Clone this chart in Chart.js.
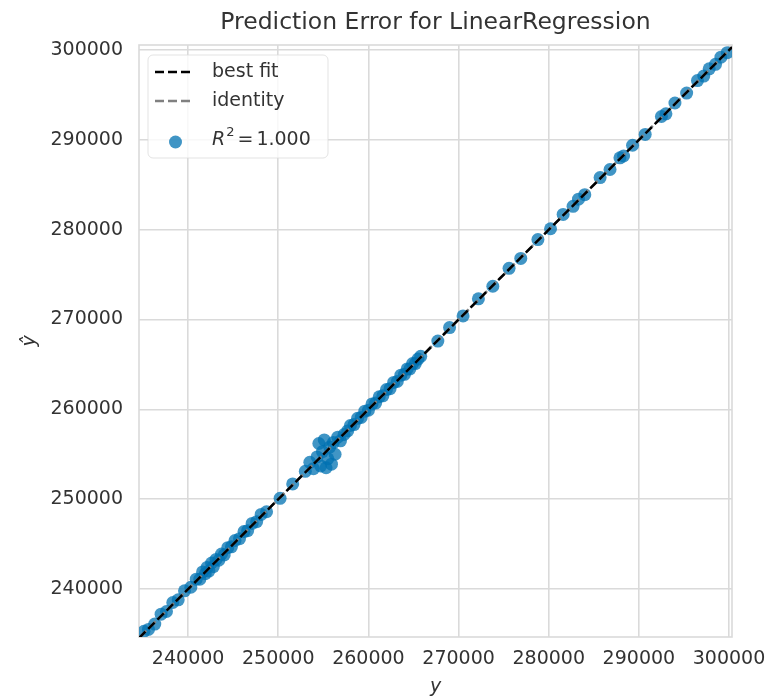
<!DOCTYPE html>
<html>
<head>
<meta charset="utf-8">
<script src="https://cdn.jsdelivr.net/npm/chart.js@4.4.1/dist/chart.umd.min.js"></script>
<style>
  html, body { margin: 0; padding: 0; background: #ffffff; }
  #wrap { width: 766px; height: 698px; }
</style>
</head>
<body>
<div id="wrap"><canvas id="c" width="766" height="698"></canvas></div>
<script>
// Observed target values (y) and model predictions (ŷ)
const actual = [
  235100, 235600, 236300, 237000, 237600, 238300, 238900, 239600, 240300, 240900,
  241300, 241600, 241900, 242100, 242300, 242600, 242800, 243100, 243400, 243700,
  244000, 244400, 244800, 245200, 245700, 246200, 246600, 247100, 247600, 248100,
  248700, 250200, 251600,
  253000, 253500, 253900, 254300, 254500, 254700, 254900, 255100, 255300, 255500,
  255700, 255900, 256100, 256300, 256600, 256900, 257300, 257700,
  258000, 258400, 258800, 259200, 259600, 260000, 260400, 260800, 261200, 261600,
  262000, 262400, 262800, 263200, 263600, 264000, 264300, 264600, 264900, 265200,
  265500, 265800,
  267700, 269000, 270500, 272200, 273800, 275600, 276900, 278800, 280200, 281600,
  282700, 283300, 284000, 285700, 286800, 287900, 288300, 289300, 290700, 292500,
  293000, 294000, 295300, 296500, 297200, 297800, 298500, 299100, 299800
];
const predicted = [
  235300, 235500, 236100, 237200, 237500, 238500, 238800, 239800, 240200, 241100,
  241100, 241900, 241700, 242400, 242000, 242900, 242500, 243300, 243200, 243900,
  243800, 244600, 244700, 245400, 245600, 246400, 246500, 247300, 247500, 248300,
  248600, 250100, 251700,
  253100, 254100, 253400, 254700, 256200, 253700, 255300, 256600, 253500, 254500,
  255800, 253900, 256300, 255000, 256900, 256500, 257200, 257600,
  258200, 258300, 259000, 259100, 259800, 259900, 260600, 260700, 261400, 261500,
  262200, 262300, 263000, 263100, 263800, 263900, 264500, 264500, 265100, 265100,
  265600, 265900,
  267600, 269100, 270400, 272300, 273700, 275700, 276800, 278900, 280100, 281700,
  282600, 283400, 283900, 285800, 286700, 288000, 288200, 289400, 290600, 292600,
  292900, 294100, 295200, 296600, 297100, 297900, 298400, 299200, 299700
];
const xTicks = [240000, 250000, 260000, 270000, 280000, 290000, 300000];
const yTicks = [240000, 250000, 260000, 270000, 280000, 290000, 300000];
const xLimits = [234550, 300330];
const yLimits = [234660, 300556];
const titleText = 'Prediction Error for LinearRegression';

// Least-squares fit of predicted on actual
const n = actual.length;
const mx = actual.reduce((a, b) => a + b, 0) / n;
const my = predicted.reduce((a, b) => a + b, 0) / n;
let sxy = 0, sxx = 0;
for (let i = 0; i < n; i++) {
  sxy += (actual[i] - mx) * (predicted[i] - my);
  sxx += (actual[i] - mx) * (actual[i] - mx);
}
const slope = sxy / sxx;
const intercept = my - slope * mx;
const fitLine = xLimits.map(x => ({ x: x, y: slope * x + intercept }));
const identityLine = [
  { x: Math.max(xLimits[0], yLimits[0]), y: Math.max(xLimits[0], yLimits[0]) },
  { x: Math.min(xLimits[1], yLimits[1]), y: Math.min(xLimits[1], yLimits[1]) }
];
const points = actual.map((x, i) => ({ x: x, y: predicted[i] }));

const FONT = "'DejaVu Sans', sans-serif";
const GRID = '#dadada';
const TEXT = '#333333';
const POINT = 'rgba(0, 114, 178, 0.75)';

// Light frame on all four sides of the plot area
const framePlugin = {
  id: 'frame',
  beforeDatasetsDraw(chart) {
    const { ctx, chartArea: a } = chart;
    ctx.save();
    ctx.strokeStyle = GRID;
    ctx.lineWidth = 1.6;
    ctx.strokeRect(a.left, a.top, a.right - a.left, a.bottom - a.top);
    ctx.restore();
  }
};

// Title centred over the plot area
const plotTitlePlugin = {
  id: 'plotTitle',
  afterDraw(chart) {
    const { ctx, chartArea: a } = chart;
    ctx.save();
    ctx.fillStyle = TEXT;
    ctx.font = '23.5px ' + FONT;
    ctx.textAlign = 'center';
    ctx.textBaseline = 'middle';
    ctx.fillText(titleText, (a.left + a.right) / 2, 23);
    ctx.restore();
  }
};

// Legend box drawn inside the upper-left corner of the plot
const legendPlugin = {
  id: 'insideLegend',
  afterDraw(chart) {
    const { ctx, chartArea: a } = chart;
    const x0 = a.left + 9, y0 = a.top + 10, w = 180, h = 103;
    ctx.save();
    ctx.beginPath();
    ctx.roundRect(x0, y0, w, h, 5);
    ctx.fillStyle = 'rgba(255,255,255,0.8)';
    ctx.fill();
    ctx.strokeStyle = 'rgba(220,220,220,0.8)';
    ctx.lineWidth = 1;
    ctx.stroke();

    const lx0 = x0 + 7, lx1 = x0 + 44, tx = x0 + 64;
    const rows = [y0 + 17, y0 + 46, y0 + 85];
    ctx.lineWidth = 2.5;
    ctx.setLineDash([9, 4]);
    [['#000000', rows[0]], ['#808080', rows[1]]].forEach(([c, y]) => {
      ctx.strokeStyle = c;
      ctx.beginPath();
      ctx.moveTo(lx0, y);
      ctx.lineTo(lx1, y);
      ctx.stroke();
    });
    ctx.setLineDash([]);
    ctx.fillStyle = POINT;
    ctx.beginPath();
    ctx.arc((lx0 + lx1) / 2 + 2, rows[2] + 2, 6.5, 0, Math.PI * 2);
    ctx.fill();

    ctx.fillStyle = TEXT;
    ctx.textBaseline = 'middle';
    ctx.textAlign = 'left';
    ctx.font = '19px ' + FONT;
    ctx.fillText('best fit', tx, rows[0]);
    ctx.fillText('identity', tx, rows[1]);

    let cx = tx;
    const ry = rows[2];
    ctx.font = 'italic 19px ' + FONT;
    ctx.fillText('R', cx, ry);
    cx += ctx.measureText('R').width + 1;
    ctx.font = '13px ' + FONT;
    ctx.fillText('2', cx, ry - 7);
    cx += ctx.measureText('2').width + 3;
    ctx.font = '19px ' + FONT;
    ctx.fillText('=', cx, ry);
    cx += ctx.measureText('=').width + 3;
    ctx.fillText('1.000', cx, ry);
    ctx.restore();
  }
};

new Chart(document.getElementById('c'), {
  type: 'scatter',
  data: {
    datasets: [
      {
        label: 'best fit',
        data: fitLine,
        showLine: true,
        borderColor: '#000000',
        borderWidth: 2.5,
        borderDash: [9, 4],
        pointRadius: 0,
        order: 0
      },
      {
        label: 'identity',
        data: identityLine,
        showLine: true,
        borderColor: '#808080',
        borderWidth: 2.5,
        borderDash: [9, 4],
        pointRadius: 0,
        order: 1
      },
      {
        label: 'R² = 1.000',
        data: points,
        backgroundColor: POINT,
        borderWidth: 0,
        pointRadius: 6.5,
        order: 2
      }
    ]
  },
  options: {
    responsive: false,
    animation: false,
    layout: { padding: { left: 0, right: 34, top: 45, bottom: 0 } },
    plugins: {
      legend: { display: false },
      tooltip: { enabled: false },
      title: { display: false }
    },
    scales: {
      x: {
        type: 'linear',
        min: xLimits[0],
        max: xLimits[1],
        afterBuildTicks: s => { s.ticks = xTicks.map(v => ({ value: v })); },
        afterFit: s => { s.height = 61; s.paddingLeft = 0; s.paddingRight = 0; },
        grid: { color: GRID, lineWidth: 1.6, drawTicks: false },
        border: { display: false },
        ticks: {
          padding: 11,
          color: TEXT,
          maxRotation: 0,
          font: { family: FONT, size: 19 },
          callback: v => String(v)
        },
        title: {
          display: true,
          text: 'y',
          color: TEXT,
          font: { family: FONT, size: 19, style: 'italic' },
          padding: { top: 0, bottom: 0 }
        }
      },
      y: {
        type: 'linear',
        min: yLimits[0],
        max: yLimits[1],
        afterBuildTicks: s => { s.ticks = yTicks.map(v => ({ value: v })); },
        afterFit: s => { s.width = 139; s.paddingTop = 0; s.paddingBottom = 0; },
        grid: { color: GRID, lineWidth: 1.6, drawTicks: false },
        border: { display: false },
        ticks: {
          padding: 16,
          color: TEXT,
          font: { family: FONT, size: 19 },
          callback: v => String(v)
        },
        title: {
          display: true,
          text: 'ŷ',
          color: TEXT,
          font: { family: FONT, size: 19, style: 'italic' },
          padding: { top: 19, bottom: 0 }
        }
      }
    }
  },
  plugins: [framePlugin, legendPlugin, plotTitlePlugin]
});
</script>
</body>
</html>
